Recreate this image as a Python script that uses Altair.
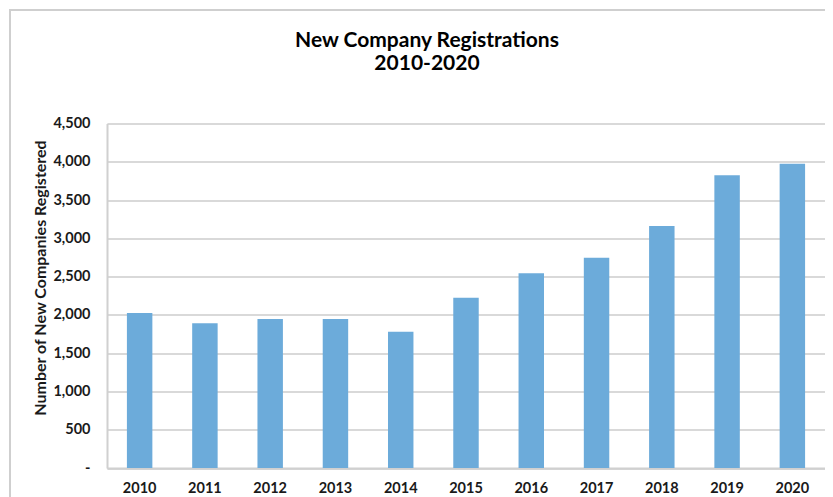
import altair as alt
import pandas as pd

years = ["2010", "2011", "2012", "2013", "2014", "2015", "2016", "2017", "2018", "2019", "2020"]
registrations = [2025, 1890, 1945, 1945, 1780, 2225, 2545, 2745, 3160, 3825, 3975]
y_ticks = [0, 500, 1000, 1500, 2000, 2500, 3000, 3500, 4000, 4500]

df = pd.DataFrame({"Year": years, "Registrations": registrations})

FONT = "Lato"
W, H = 718, 344.5

bars = alt.Chart(df).mark_bar(color="#6CABDA").encode(
    x=alt.X(
        "Year:N",
        sort=years,
        scale=alt.Scale(paddingInner=0.61, paddingOuter=0.305),
        axis=alt.Axis(
            title=None,
            labelAngle=0,
            labelFont=FONT,
            labelFontSize=14.5,
            labelFontWeight="bold",
            labelColor="#1a1a1a",
            labelPadding=13,
            ticks=False,
            domainColor="#d0d0d0",
            domainWidth=2,
            grid=False,
        ),
    ),
    y=alt.Y(
        "Registrations:Q",
        scale=alt.Scale(domain=[0, 4500], nice=False),
        axis=alt.Axis(
            title="Number of New Companies Registered",
            titleFont=FONT,
            titleFontSize=16,
            titleFontWeight="bold",
            titleColor="#1a1a1a",
            titleX=-67,
            titleY=154,
            titleAngle=-90,
            titleAlign="center",
            titleBaseline="middle",
            values=y_ticks,
            labelExpr="datum.value == 0 ? '-\u00a0\u00a0\u00a0\u00a0\u00a0' : format(datum.value, ',')",
            labelFont=FONT,
            labelFontSize=14.5,
            labelFontWeight="bold",
            labelColor="#1a1a1a",
            labelPadding=17,
            ticks=False,
            domainColor="#d0d0d0",
            domainWidth=2,
            grid=True,
            gridColor="#d9d9d9",
            gridWidth=2,
        ),
    ),
)

frame_v = alt.Chart(df).mark_rule(color="#cfcfcf", strokeWidth=2).encode(
    x=alt.value(-97), y=alt.value(-113.5), y2=alt.value(420)
)
frame_h = alt.Chart(df).mark_rule(color="#cfcfcf", strokeWidth=2).encode(
    x=alt.value(-98), x2=alt.value(760), y=alt.value(-113.5)
)

chart = (
    alt.layer(frame_v, frame_h, bars)
    .properties(
        width=W,
        height=H,
        title=alt.TitleParams(
            text=["New Company Registrations", "2010-2020"],
            font=FONT,
            fontSize=21,
            fontWeight="bold",
            color="#000000",
            anchor="middle",
            frame="group",
            dx=-39,
            offset=-65,
            lineHeight=23,
        ),
        autosize=alt.AutoSizeParams(type="none"),
        padding={"left": 99, "top": 115.5, "right": 0, "bottom": 29},
    )
    .configure_view(stroke=None)
    .configure(background="white")
)

chart.save("out.html", embed_options={"renderer": "svg", "actions": False})
